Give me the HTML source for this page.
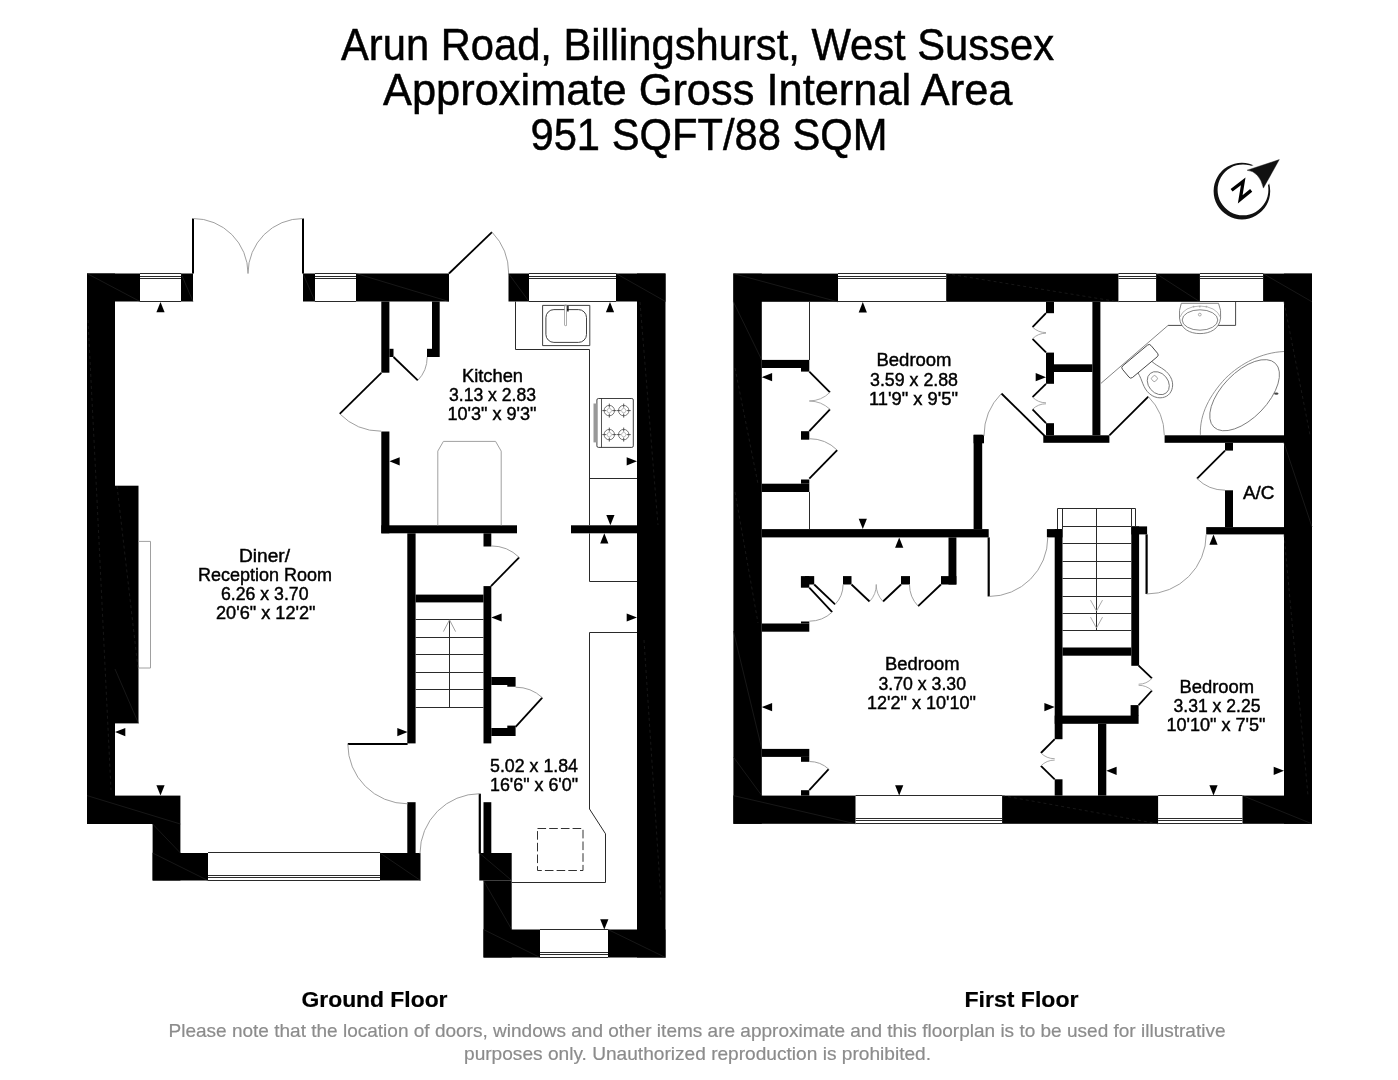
<!DOCTYPE html>
<html><head><meta charset="utf-8"><title>Floorplan</title>
<style>html,body{margin:0;padding:0;background:#fff}svg{display:block;will-change:transform}text{font-family:"Liberation Sans",sans-serif}</style>
</head><body>
<svg width="1398" height="1080" viewBox="0 0 1398 1080">
<rect width="1398" height="1080" fill="#fff"/>
<rect x="87.0" y="273.5" width="28.0" height="550.5" fill="#000"/>
<rect x="87.0" y="273.5" width="53.0" height="28.0" fill="#000"/>
<rect x="181.0" y="273.5" width="12.0" height="28.0" fill="#000"/>
<rect x="303.0" y="273.5" width="12.0" height="28.0" fill="#000"/>
<rect x="356.0" y="273.5" width="93.0" height="28.0" fill="#000"/>
<rect x="508.5" y="273.5" width="20.5" height="28.0" fill="#000"/>
<rect x="616.0" y="273.5" width="49.5" height="28.0" fill="#000"/>
<rect x="637.0" y="273.5" width="28.5" height="684.0" fill="#000"/>
<rect x="483.5" y="929.5" width="56.5" height="28.0" fill="#000"/>
<rect x="608.0" y="929.5" width="57.5" height="28.0" fill="#000"/>
<rect x="483.5" y="880.5" width="28.2" height="77.0" fill="#000"/>
<rect x="479.3" y="853.0" width="32.4" height="27.5" fill="#000"/>
<rect x="380.0" y="853.0" width="40.5" height="27.5" fill="#000"/>
<rect x="152.6" y="853.0" width="55.4" height="27.5" fill="#000"/>
<rect x="152.6" y="824.0" width="27.8" height="56.5" fill="#000"/>
<rect x="87.0" y="795.6" width="93.4" height="28.4" fill="#000"/>
<rect x="115.0" y="485.7" width="23.5" height="237.7" fill="#000"/>
<line x1="140.0" y1="273.5" x2="181.0" y2="273.5" stroke="#2a2a2a" stroke-width="1"/>
<line x1="140.0" y1="276.5" x2="181.0" y2="276.5" stroke="#2a2a2a" stroke-width="1"/>
<line x1="140.0" y1="278.5" x2="181.0" y2="278.5" stroke="#2a2a2a" stroke-width="1"/>
<line x1="140.0" y1="301.5" x2="181.0" y2="301.5" stroke="#2a2a2a" stroke-width="1"/>
<line x1="315.0" y1="273.5" x2="356.0" y2="273.5" stroke="#2a2a2a" stroke-width="1"/>
<line x1="315.0" y1="276.5" x2="356.0" y2="276.5" stroke="#2a2a2a" stroke-width="1"/>
<line x1="315.0" y1="278.5" x2="356.0" y2="278.5" stroke="#2a2a2a" stroke-width="1"/>
<line x1="315.0" y1="301.5" x2="356.0" y2="301.5" stroke="#2a2a2a" stroke-width="1"/>
<line x1="529.0" y1="273.5" x2="616.0" y2="273.5" stroke="#2a2a2a" stroke-width="1"/>
<line x1="529.0" y1="276.5" x2="616.0" y2="276.5" stroke="#2a2a2a" stroke-width="1"/>
<line x1="529.0" y1="278.5" x2="616.0" y2="278.5" stroke="#2a2a2a" stroke-width="1"/>
<line x1="529.0" y1="301.5" x2="616.0" y2="301.5" stroke="#2a2a2a" stroke-width="1"/>
<line x1="208.0" y1="880.5" x2="380.0" y2="880.5" stroke="#2a2a2a" stroke-width="1"/>
<line x1="208.0" y1="877.5" x2="380.0" y2="877.5" stroke="#2a2a2a" stroke-width="1"/>
<line x1="208.0" y1="875.5" x2="380.0" y2="875.5" stroke="#2a2a2a" stroke-width="1"/>
<line x1="208.0" y1="852.5" x2="380.0" y2="852.5" stroke="#2a2a2a" stroke-width="1"/>
<line x1="540.0" y1="957.5" x2="608.0" y2="957.5" stroke="#2a2a2a" stroke-width="1"/>
<line x1="540.0" y1="954.5" x2="608.0" y2="954.5" stroke="#2a2a2a" stroke-width="1"/>
<line x1="540.0" y1="952.5" x2="608.0" y2="952.5" stroke="#2a2a2a" stroke-width="1"/>
<line x1="540.0" y1="929.5" x2="608.0" y2="929.5" stroke="#2a2a2a" stroke-width="1"/>
<rect x="381.3" y="301.5" width="8.1" height="71.2" fill="#000"/>
<rect x="389.4" y="348.8" width="4.1" height="8.2" fill="#000"/>
<rect x="432.0" y="301.5" width="7.7" height="55.5" fill="#000"/>
<rect x="427.0" y="348.8" width="5.0" height="8.2" fill="#000"/>
<rect x="381.3" y="431.5" width="8.1" height="101.8" fill="#000"/>
<rect x="381.3" y="525.3" width="135.7" height="8.0" fill="#000"/>
<rect x="571.0" y="525.3" width="66.0" height="8.0" fill="#000"/>
<rect x="407.3" y="533.3" width="8.3" height="210.1" fill="#000"/>
<rect x="483.5" y="533.3" width="7.8" height="13.2" fill="#000"/>
<rect x="483.5" y="586.1" width="7.8" height="157.3" fill="#000"/>
<rect x="415.6" y="594.6" width="67.9" height="7.8" fill="#000"/>
<rect x="491.3" y="677.0" width="24.3" height="8.0" fill="#000"/>
<rect x="507.3" y="685.0" width="8.3" height="1.7" fill="#000"/>
<rect x="491.3" y="728.0" width="24.3" height="8.0" fill="#000"/>
<rect x="507.3" y="725.6" width="8.3" height="2.4" fill="#000"/>
<rect x="407.3" y="802.2" width="8.3" height="50.8" fill="#000"/>
<rect x="483.5" y="802.2" width="7.8" height="50.8" fill="#000"/>
<line x1="193.0" y1="273.5" x2="193.0" y2="218.5" stroke="#000" stroke-width="2"/>
<path d="M193.0,218.5 A55.0,55.0 0 0 1 248.0,273.5" stroke="#a0a0a0" stroke-width="1.0" fill="none" />
<line x1="303.0" y1="273.5" x2="303.0" y2="218.5" stroke="#000" stroke-width="2"/>
<path d="M303.0,218.5 A55.0,55.0 0 0 0 248.0,273.5" stroke="#a0a0a0" stroke-width="1.0" fill="none" />
<line x1="449.0" y1="273.5" x2="492.0" y2="232.1" stroke="#000" stroke-width="1.8"/>
<path d="M492.0,232.1 A59.7,59.7 0 0 1 508.7,273.5" stroke="#a0a0a0" stroke-width="1.0" fill="none" />
<line x1="393.5" y1="357.0" x2="417.8" y2="380.4" stroke="#000" stroke-width="1.8"/>
<path d="M417.8,380.4 A33.7,33.7 0 0 0 427.2,357.0" stroke="#a0a0a0" stroke-width="1.0" fill="none" />
<line x1="381.3" y1="372.8" x2="339.7" y2="413.8" stroke="#000" stroke-width="1.8"/>
<path d="M339.7,413.8 A58.4,58.4 0 0 0 381.3,431.2" stroke="#a0a0a0" stroke-width="1.0" fill="none" />
<line x1="491.0" y1="586.1" x2="519.2" y2="557.4" stroke="#000" stroke-width="1.8"/>
<path d="M519.2,557.4 A40.2,40.2 0 0 0 491.0,545.9" stroke="#a0a0a0" stroke-width="1.0" fill="none" />
<line x1="515.6" y1="726.8" x2="542.3" y2="697.6" stroke="#000" stroke-width="1.8"/>
<path d="M542.3,697.6 A39.6,39.6 0 0 0 515.6,687.2" stroke="#a0a0a0" stroke-width="1.0" fill="none" />
<line x1="407.6" y1="744.0" x2="347.8" y2="744.0" stroke="#000" stroke-width="2.2"/>
<path d="M347.8,744.0 A59.8,59.8 0 0 0 407.6,803.8" stroke="#a0a0a0" stroke-width="1.0" fill="none" />
<line x1="479.8" y1="853.5" x2="479.8" y2="793.7" stroke="#000" stroke-width="2.2"/>
<path d="M479.8,793.7 A59.8,59.8 0 0 0 420.0,853.5" stroke="#a0a0a0" stroke-width="1.0" fill="none" />
<path d="M138.5,541.4 H150.5 V668 H138.5" stroke="#a0a0a0" stroke-width="1" fill="none" />
<path d="M515.5,301.5 V349.5 H589.5 V525.3 M589.5,533.3 V581.5 H637 M589.5,478.5 H637" stroke="#2a2a2a" stroke-width="1" fill="none" />
<path d="M637,632.5 H589.5 V809 L605.5,833.8 V882.5 H511.7" stroke="#2a2a2a" stroke-width="1" fill="none" />
<path d="M542.6,305.4 H589.8 V345.6 H542.6 Z" stroke="#2a2a2a" stroke-width="0.9" fill="none" />
<rect x="545.9" y="309.6" width="40.6" height="32.8" rx="8" ry="8" fill="none" stroke="#2a2a2a" stroke-width="0.9"/>
<path d="M565.6,306 V324.8" stroke="#999" stroke-width="2.8" fill="none" stroke-linecap="round"/>
<path d="M565.6,306.6 V324.8" stroke="#fff" stroke-width="1.2" fill="none" stroke-linecap="round"/>
<rect x="567.2" y="306.0" width="1.4" height="5.5" fill="#000"/>
<rect x="596.9" y="398.5" width="36.4" height="48.9" rx="1.5" fill="none" stroke="#2a2a2a" stroke-width="0.9"/>
<rect x="593.5" y="403.5" width="3.4" height="38.9" fill="#999"/>
<line x1="601.5" y1="398.5" x2="601.5" y2="447.4" stroke="#2a2a2a" stroke-width="0.8"/>
<circle cx="609.3" cy="410.6" r="5.2" fill="none" stroke="#555" stroke-width="0.8"/>
<circle cx="609.3" cy="410.6" r="2.2" fill="none" stroke="#999" stroke-width="0.6"/>
<path d="M602.3,410.6 h4 M612.3,410.6 h4 M609.3,403.6 v4 M609.3,413.6 v4" stroke="#333" stroke-width="0.8" fill="none" />
<circle cx="609.3" cy="434.6" r="5.2" fill="none" stroke="#555" stroke-width="0.8"/>
<circle cx="609.3" cy="434.6" r="2.2" fill="none" stroke="#999" stroke-width="0.6"/>
<path d="M602.3,434.6 h4 M612.3,434.6 h4 M609.3,427.6 v4 M609.3,437.6 v4" stroke="#333" stroke-width="0.8" fill="none" />
<circle cx="623.7" cy="410.6" r="5.2" fill="none" stroke="#555" stroke-width="0.8"/>
<circle cx="623.7" cy="410.6" r="2.2" fill="none" stroke="#999" stroke-width="0.6"/>
<path d="M616.7,410.6 h4 M626.7,410.6 h4 M623.7,403.6 v4 M623.7,413.6 v4" stroke="#333" stroke-width="0.8" fill="none" />
<circle cx="623.7" cy="434.6" r="5.2" fill="none" stroke="#555" stroke-width="0.8"/>
<circle cx="623.7" cy="434.6" r="2.2" fill="none" stroke="#999" stroke-width="0.6"/>
<path d="M616.7,434.6 h4 M626.7,434.6 h4 M623.7,427.6 v4 M623.7,437.6 v4" stroke="#333" stroke-width="0.8" fill="none" />
<path d="M437.8,525.3 V451.1 L443.4,441.4 H495.6 L501.2,451.1 V525.3" stroke="#a0a0a0" stroke-width="1" fill="none" />
<line x1="415.6" y1="619.5" x2="483.5" y2="619.5" stroke="#2a2a2a" stroke-width="1"/>
<line x1="415.6" y1="637.5" x2="483.5" y2="637.5" stroke="#2a2a2a" stroke-width="1"/>
<line x1="415.6" y1="654.5" x2="483.5" y2="654.5" stroke="#2a2a2a" stroke-width="1"/>
<line x1="415.6" y1="672.5" x2="483.5" y2="672.5" stroke="#2a2a2a" stroke-width="1"/>
<line x1="415.6" y1="689.5" x2="483.5" y2="689.5" stroke="#2a2a2a" stroke-width="1"/>
<line x1="415.6" y1="707.5" x2="483.5" y2="707.5" stroke="#2a2a2a" stroke-width="1"/>
<line x1="449.5" y1="619.5" x2="449.5" y2="707.5" stroke="#2a2a2a" stroke-width="1"/>
<path d="M443.4,631.6 L449.5,619.9 L455.6,631.6" stroke="#a0a0a0" stroke-width="1" fill="none" />
<rect x="537.5" y="828.5" width="45.5" height="42" fill="none" stroke="#333" stroke-width="1" stroke-dasharray="8.6,3.1"/>
<polygon points="160.5,302.0 156.4,312.3 164.6,312.3" fill="#000"/>
<polygon points="610.0,302.0 605.9,312.3 614.1,312.3" fill="#000"/>
<polygon points="389.4,461.3 399.7,457.2 399.7,465.4" fill="#000"/>
<polygon points="637.0,461.3 626.7,457.2 626.7,465.4" fill="#000"/>
<polygon points="610.4,525.3 606.3,515.0 614.5,515.0" fill="#000"/>
<polygon points="604.3,533.3 600.2,543.6 608.4,543.6" fill="#000"/>
<polygon points="491.3,617.5 501.6,613.4 501.6,621.6" fill="#000"/>
<polygon points="637.0,617.5 626.7,613.4 626.7,621.6" fill="#000"/>
<polygon points="115.0,732.1 125.3,728.0 125.3,736.2" fill="#000"/>
<polygon points="407.6,732.1 397.3,728.0 397.3,736.2" fill="#000"/>
<polygon points="160.5,795.6 156.4,785.3 164.6,785.3" fill="#000"/>
<polygon points="604.3,929.5 600.2,919.2 608.4,919.2" fill="#000"/>
<rect x="733.4" y="273.6" width="28.4" height="550.2" fill="#000"/>
<rect x="1284.0" y="273.6" width="28.0" height="550.2" fill="#000"/>
<rect x="733.4" y="273.6" width="104.6" height="28.2" fill="#000"/>
<rect x="946.2" y="273.6" width="172.2" height="28.2" fill="#000"/>
<rect x="1156.1" y="273.6" width="43.8" height="28.2" fill="#000"/>
<rect x="1263.1" y="273.6" width="48.9" height="28.2" fill="#000"/>
<rect x="733.4" y="795.6" width="122.1" height="28.2" fill="#000"/>
<rect x="1002.1" y="795.6" width="156.0" height="28.2" fill="#000"/>
<rect x="1242.5" y="795.6" width="69.5" height="28.2" fill="#000"/>
<line x1="838.0" y1="273.5" x2="946.2" y2="273.5" stroke="#2a2a2a" stroke-width="1"/>
<line x1="838.0" y1="276.5" x2="946.2" y2="276.5" stroke="#2a2a2a" stroke-width="1"/>
<line x1="838.0" y1="278.5" x2="946.2" y2="278.5" stroke="#2a2a2a" stroke-width="1"/>
<line x1="838.0" y1="301.5" x2="946.2" y2="301.5" stroke="#2a2a2a" stroke-width="1"/>
<line x1="1118.4" y1="273.5" x2="1156.1" y2="273.5" stroke="#2a2a2a" stroke-width="1"/>
<line x1="1118.4" y1="276.5" x2="1156.1" y2="276.5" stroke="#2a2a2a" stroke-width="1"/>
<line x1="1118.4" y1="278.5" x2="1156.1" y2="278.5" stroke="#2a2a2a" stroke-width="1"/>
<line x1="1118.4" y1="301.5" x2="1156.1" y2="301.5" stroke="#2a2a2a" stroke-width="1"/>
<line x1="1199.9" y1="273.5" x2="1263.1" y2="273.5" stroke="#2a2a2a" stroke-width="1"/>
<line x1="1199.9" y1="276.5" x2="1263.1" y2="276.5" stroke="#2a2a2a" stroke-width="1"/>
<line x1="1199.9" y1="278.5" x2="1263.1" y2="278.5" stroke="#2a2a2a" stroke-width="1"/>
<line x1="1199.9" y1="301.5" x2="1263.1" y2="301.5" stroke="#2a2a2a" stroke-width="1"/>
<line x1="855.5" y1="823.5" x2="1002.1" y2="823.5" stroke="#2a2a2a" stroke-width="1"/>
<line x1="855.5" y1="820.5" x2="1002.1" y2="820.5" stroke="#2a2a2a" stroke-width="1"/>
<line x1="855.5" y1="818.5" x2="1002.1" y2="818.5" stroke="#2a2a2a" stroke-width="1"/>
<line x1="855.5" y1="795.5" x2="1002.1" y2="795.5" stroke="#2a2a2a" stroke-width="1"/>
<line x1="1158.1" y1="823.5" x2="1242.5" y2="823.5" stroke="#2a2a2a" stroke-width="1"/>
<line x1="1158.1" y1="820.5" x2="1242.5" y2="820.5" stroke="#2a2a2a" stroke-width="1"/>
<line x1="1158.1" y1="818.5" x2="1242.5" y2="818.5" stroke="#2a2a2a" stroke-width="1"/>
<line x1="1158.1" y1="795.5" x2="1242.5" y2="795.5" stroke="#2a2a2a" stroke-width="1"/>
<rect x="761.8" y="359.9" width="47.5" height="8.1" fill="#000"/>
<rect x="801.0" y="368.0" width="8.3" height="3.6" fill="#000"/>
<rect x="801.0" y="431.2" width="8.3" height="8.5" fill="#000"/>
<rect x="761.8" y="483.7" width="47.5" height="8.3" fill="#000"/>
<rect x="801.0" y="479.5" width="8.3" height="4.2" fill="#000"/>
<rect x="761.8" y="529.1" width="226.9" height="8.3" fill="#000"/>
<rect x="973.6" y="434.8" width="8.6" height="94.3" fill="#000"/>
<rect x="973.6" y="434.8" width="10.4" height="8.5" fill="#000"/>
<rect x="1046.0" y="301.8" width="8.0" height="11.4" fill="#000"/>
<rect x="1046.0" y="352.6" width="8.0" height="31.2" fill="#000"/>
<rect x="1046.0" y="423.2" width="8.0" height="12.1" fill="#000"/>
<rect x="1054.0" y="364.3" width="38.4" height="7.7" fill="#000"/>
<rect x="1092.4" y="301.8" width="8.0" height="133.5" fill="#000"/>
<rect x="1043.3" y="435.3" width="66.1" height="7.5" fill="#000"/>
<rect x="1164.6" y="435.3" width="119.4" height="7.5" fill="#000"/>
<rect x="1225.0" y="442.8" width="8.0" height="7.8" fill="#000"/>
<rect x="1225.0" y="490.3" width="8.0" height="36.8" fill="#000"/>
<rect x="1206.2" y="527.1" width="77.8" height="7.3" fill="#000"/>
<rect x="1054.7" y="529.1" width="7.8" height="210.1" fill="#000"/>
<rect x="1046.9" y="529.1" width="15.6" height="8.3" fill="#000"/>
<rect x="1131.3" y="526.4" width="7.8" height="139.4" fill="#000"/>
<rect x="1131.3" y="526.4" width="15.8" height="8.0" fill="#000"/>
<rect x="1062.5" y="647.5" width="68.8" height="8.2" fill="#000"/>
<rect x="1130.6" y="705.1" width="8.0" height="10.9" fill="#000"/>
<rect x="1054.7" y="715.6" width="83.9" height="8.2" fill="#000"/>
<rect x="1054.7" y="779.3" width="7.8" height="16.3" fill="#000"/>
<rect x="1098.0" y="723.8" width="8.3" height="71.8" fill="#000"/>
<rect x="948.5" y="537.4" width="7.9" height="47.1" fill="#000"/>
<rect x="941.0" y="576.1" width="15.4" height="8.4" fill="#000"/>
<rect x="800.9" y="576.1" width="8.4" height="11.6" fill="#000"/>
<rect x="805.0" y="576.1" width="9.2" height="8.4" fill="#000"/>
<rect x="843.0" y="576.1" width="8.5" height="8.4" fill="#000"/>
<rect x="901.0" y="576.1" width="9.0" height="8.4" fill="#000"/>
<rect x="761.8" y="623.5" width="47.5" height="8.2" fill="#000"/>
<rect x="801.0" y="621.5" width="8.3" height="2.0" fill="#000"/>
<rect x="761.8" y="748.9" width="47.5" height="8.0" fill="#000"/>
<rect x="801.0" y="756.9" width="8.3" height="4.9" fill="#000"/>
<rect x="801.0" y="790.2" width="8.3" height="5.4" fill="#000"/>
<line x1="809.5" y1="301.8" x2="809.5" y2="360.0" stroke="#2a2a2a" stroke-width="1"/>
<line x1="809.5" y1="492.0" x2="809.5" y2="529.1" stroke="#2a2a2a" stroke-width="1"/>
<line x1="809.3" y1="371.6" x2="830.0" y2="392.3" stroke="#000" stroke-width="1.8"/>
<path d="M830.0,392.3 A29.3,29.3 0 0 1 809.3,400.9" stroke="#a0a0a0" stroke-width="0.9" fill="none" />
<line x1="809.3" y1="431.2" x2="830.0" y2="409.3" stroke="#000" stroke-width="1.8"/>
<path d="M830.0,409.3 A30.1,30.1 0 0 0 809.3,401.1" stroke="#a0a0a0" stroke-width="0.9" fill="none" />
<line x1="809.3" y1="478.6" x2="837.2" y2="450.1" stroke="#000" stroke-width="1.8"/>
<path d="M837.2,450.1 A39.9,39.9 0 0 0 809.3,438.7" stroke="#a0a0a0" stroke-width="1.0" fill="none" />
<line x1="1044.7" y1="436.0" x2="1001.4" y2="393.5" stroke="#000" stroke-width="1.8"/>
<path d="M1001.4,393.5 A60.7,60.7 0 0 0 984.0,436.0" stroke="#a0a0a0" stroke-width="1.0" fill="none" />
<line x1="1046.0" y1="313.2" x2="1032.5" y2="327.1" stroke="#000" stroke-width="1.8"/>
<path d="M1032.5,327.1 A19.4,19.4 0 0 0 1046.0,332.6" stroke="#a0a0a0" stroke-width="0.9" fill="none" />
<line x1="1046.0" y1="352.3" x2="1032.5" y2="338.8" stroke="#000" stroke-width="1.8"/>
<path d="M1032.5,338.8 A19.1,19.1 0 0 1 1046.0,333.2" stroke="#a0a0a0" stroke-width="0.9" fill="none" />
<line x1="1046.0" y1="383.8" x2="1032.5" y2="397.1" stroke="#000" stroke-width="1.8"/>
<path d="M1032.5,397.1 A19.0,19.0 0 0 0 1046.0,402.8" stroke="#a0a0a0" stroke-width="0.9" fill="none" />
<line x1="1046.0" y1="423.2" x2="1032.5" y2="409.3" stroke="#000" stroke-width="1.8"/>
<path d="M1032.5,409.3 A19.4,19.4 0 0 1 1046.0,403.8" stroke="#a0a0a0" stroke-width="0.9" fill="none" />
<line x1="1109.4" y1="435.3" x2="1148.3" y2="396.6" stroke="#000" stroke-width="1.8"/>
<path d="M1148.3,396.6 A54.9,54.9 0 0 1 1164.3,435.3" stroke="#a0a0a0" stroke-width="1.0" fill="none" />
<line x1="1225.0" y1="450.6" x2="1197.0" y2="478.6" stroke="#000" stroke-width="1.8"/>
<path d="M1197.0,478.6 A39.6,39.6 0 0 0 1225.0,490.2" stroke="#a0a0a0" stroke-width="1.0" fill="none" />
<line x1="988.7" y1="537.4" x2="988.7" y2="596.5" stroke="#000" stroke-width="2.2"/>
<path d="M988.7,596.5 A59.1,59.1 0 0 0 1047.8,537.4" stroke="#a0a0a0" stroke-width="1.0" fill="none" />
<line x1="1146.6" y1="534.4" x2="1146.6" y2="594.0" stroke="#000" stroke-width="2.2"/>
<path d="M1146.6,594.0 A59.6,59.6 0 0 0 1206.2,534.4" stroke="#a0a0a0" stroke-width="1.0" fill="none" />
<line x1="814.2" y1="584.5" x2="835.1" y2="604.4" stroke="#000" stroke-width="1.8"/>
<path d="M835.1,604.4 A28.9,28.9 0 0 0 843.1,584.5" stroke="#a0a0a0" stroke-width="1.0" fill="none" />
<line x1="809.3" y1="587.7" x2="832.2" y2="612.1" stroke="#000" stroke-width="1.8"/>
<path d="M832.2,612.1 A33.5,33.5 0 0 1 809.3,621.2" stroke="#a0a0a0" stroke-width="1.0" fill="none" />
<line x1="851.5" y1="584.5" x2="869.6" y2="601.5" stroke="#000" stroke-width="1.8"/>
<path d="M869.6,601.5 A24.8,24.8 0 0 0 876.3,584.5" stroke="#a0a0a0" stroke-width="0.9" fill="none" />
<line x1="901.0" y1="584.5" x2="883.0" y2="601.5" stroke="#000" stroke-width="1.8"/>
<path d="M883.0,601.5 A24.8,24.8 0 0 1 876.2,584.5" stroke="#a0a0a0" stroke-width="0.9" fill="none" />
<line x1="940.9" y1="584.5" x2="918.1" y2="606.1" stroke="#000" stroke-width="1.8"/>
<path d="M918.1,606.1 A31.4,31.4 0 0 1 909.5,584.5" stroke="#a0a0a0" stroke-width="1.0" fill="none" />
<line x1="809.3" y1="790.2" x2="828.7" y2="769.1" stroke="#000" stroke-width="1.8"/>
<path d="M828.7,769.1 A28.7,28.7 0 0 0 809.3,761.5" stroke="#a0a0a0" stroke-width="1.0" fill="none" />
<line x1="1138.6" y1="665.7" x2="1152.0" y2="678.4" stroke="#000" stroke-width="1.8"/>
<path d="M1152.0,678.4 A18.5,18.5 0 0 1 1138.6,684.2" stroke="#a0a0a0" stroke-width="0.9" fill="none" />
<line x1="1138.6" y1="705.1" x2="1152.0" y2="690.5" stroke="#000" stroke-width="1.8"/>
<path d="M1152.0,690.5 A19.8,19.8 0 0 0 1138.6,685.3" stroke="#a0a0a0" stroke-width="0.9" fill="none" />
<line x1="1054.7" y1="739.2" x2="1040.9" y2="753.0" stroke="#000" stroke-width="1.8"/>
<path d="M1040.9,753.0 A19.5,19.5 0 0 0 1054.7,758.7" stroke="#a0a0a0" stroke-width="0.9" fill="none" />
<line x1="1054.7" y1="779.3" x2="1040.9" y2="765.9" stroke="#000" stroke-width="1.8"/>
<path d="M1040.9,765.9 A19.2,19.2 0 0 1 1054.7,760.1" stroke="#a0a0a0" stroke-width="0.9" fill="none" />
<path d="M1057.5,529.1 V508.5 H1135.5 V526.4 M1062.5,508.5 V529.1 M1131.5,508.5 V526.4" stroke="#2a2a2a" stroke-width="1" fill="none" />
<line x1="1062.5" y1="526.5" x2="1131.3" y2="526.5" stroke="#2a2a2a" stroke-width="1"/>
<line x1="1062.5" y1="543.5" x2="1131.3" y2="543.5" stroke="#2a2a2a" stroke-width="1"/>
<line x1="1062.5" y1="561.5" x2="1131.3" y2="561.5" stroke="#2a2a2a" stroke-width="1"/>
<line x1="1062.5" y1="578.5" x2="1131.3" y2="578.5" stroke="#2a2a2a" stroke-width="1"/>
<line x1="1062.5" y1="596.5" x2="1131.3" y2="596.5" stroke="#2a2a2a" stroke-width="1"/>
<line x1="1062.5" y1="613.5" x2="1131.3" y2="613.5" stroke="#2a2a2a" stroke-width="1"/>
<line x1="1062.5" y1="630.5" x2="1131.3" y2="630.5" stroke="#2a2a2a" stroke-width="1"/>
<line x1="1096.5" y1="508.5" x2="1096.5" y2="630.5" stroke="#2a2a2a" stroke-width="1"/>
<path d="M1090.5,600.1 L1096.5,611 L1102.5,600.1 M1090.5,617.1 L1096.5,628 L1102.5,617.1" stroke="#a0a0a0" stroke-width="0.9" fill="none" />
<path d="M1235.6,301.8 V325.4 H1168.1" stroke="#333" stroke-width="0.9" fill="none" />
<path d="M1168.1,325.4 L1100.9,383.4" stroke="#777" stroke-width="0.9" fill="none" />
<path d="M1181.3,303.3 H1218.5 Q1221.5,310 1220.6,318 C1219.5,329 1210,333.6 1200,333.6 C1190,333.6 1180.5,329 1179.5,318 Q1178.7,310 1181.3,303.3 Z" stroke="#777" stroke-width="0.9" fill="#fff" />
<ellipse cx="1200" cy="320" rx="17.8" ry="10.2" fill="none" stroke="#777" stroke-width="0.9"/>
<path d="M1180,317 Q1184,306.5 1200,306 Q1216,306.5 1220.3,317" stroke="#999" stroke-width="0.7" fill="none" />
<circle cx="1199.8" cy="314.6" r="1.4" fill="none" stroke="#888" stroke-width="0.7"/>
<circle cx="1193.6" cy="306.6" r="0.9" fill="#aaa"/>
<circle cx="1199.8" cy="306.6" r="0.9" fill="#aaa"/>
<circle cx="1206.4" cy="306.6" r="0.9" fill="#aaa"/>
<g transform="translate(1140,361.3) rotate(-39.9)">
<path d="M-9,7.6 C-10,16 -15,22 -13.5,31 C-12,40 -5,44 0,44 C5,44 12,40 13.5,31 C15,22 10,16 9,7.6" fill="#fff" stroke="#777" stroke-width="0.9"/>
<ellipse cx="0" cy="28.5" rx="9.8" ry="12.6" fill="none" stroke="#777" stroke-width="0.9"/>
<rect x="-2.6" y="20" width="5.2" height="5" rx="1.3" fill="none" stroke="#888" stroke-width="0.7"/>
<rect x="-18.6" y="-7.6" width="37.2" height="15.2" rx="2.5" fill="#fff" stroke="#444" stroke-width="0.9"/>
</g>
<path d="M1200.4,434.8 C1199.5,414 1210,395 1225.2,378.6 C1241,363 1262,352.5 1284,351.5" stroke="#888" stroke-width="0.9" fill="none" />
<ellipse cx="0" cy="0" rx="44.3" ry="22.8" fill="none" stroke="#777" stroke-width="0.9" transform="translate(1244.6,395.2) rotate(-46)"/>
<ellipse cx="1276.3" cy="393.6" rx="2.2" ry="1.2" fill="#444"/>
<polygon points="862.8,302.1 858.7,312.4 866.9,312.4" fill="#000"/>
<polygon points="761.8,377.2 772.1,373.1 772.1,381.3" fill="#000"/>
<polygon points="1046.0,377.2 1035.7,373.1 1035.7,381.3" fill="#000"/>
<polygon points="862.8,529.1 858.7,518.8 866.9,518.8" fill="#000"/>
<polygon points="899.2,537.4 895.1,547.7 903.3,547.7" fill="#000"/>
<polygon points="761.8,707.1 772.1,703.0 772.1,711.2" fill="#000"/>
<polygon points="1054.7,707.1 1044.4,703.0 1044.4,711.2" fill="#000"/>
<polygon points="899.2,795.6 895.1,785.3 903.3,785.3" fill="#000"/>
<polygon points="1213.5,534.4 1209.4,544.7 1217.6,544.7" fill="#000"/>
<polygon points="1106.3,770.8 1116.6,766.7 1116.6,774.9" fill="#000"/>
<polygon points="1284.0,770.8 1273.7,766.7 1273.7,774.9" fill="#000"/>
<polygon points="1213.5,795.6 1209.4,785.3 1217.6,785.3" fill="#000"/>
<line x1="87" y1="273.5" x2="140" y2="301.5" stroke="#272727" stroke-width="0.6"/>
<line x1="181" y1="273.5" x2="193" y2="301.5" stroke="#272727" stroke-width="0.6"/>
<line x1="303" y1="273.5" x2="315" y2="301.5" stroke="#272727" stroke-width="0.6"/>
<line x1="356" y1="273.5" x2="449" y2="301.5" stroke="#272727" stroke-width="0.6"/>
<line x1="508.5" y1="273.5" x2="529" y2="301.5" stroke="#272727" stroke-width="0.6"/>
<line x1="616" y1="273.5" x2="665.5" y2="301.5" stroke="#272727" stroke-width="0.6"/>
<line x1="87" y1="795.6" x2="180.4" y2="824" stroke="#272727" stroke-width="0.6"/>
<line x1="152.6" y1="824" x2="180.4" y2="853" stroke="#272727" stroke-width="0.6"/>
<line x1="152.6" y1="853" x2="208" y2="880.5" stroke="#272727" stroke-width="0.6"/>
<line x1="380" y1="853" x2="420.5" y2="880.5" stroke="#272727" stroke-width="0.6"/>
<line x1="479.3" y1="853" x2="511.7" y2="880.5" stroke="#272727" stroke-width="0.6"/>
<line x1="483.5" y1="880.5" x2="511.7" y2="929.5" stroke="#272727" stroke-width="0.6"/>
<line x1="483.5" y1="929.5" x2="540" y2="957.5" stroke="#272727" stroke-width="0.6"/>
<line x1="608" y1="929.5" x2="665.5" y2="957.5" stroke="#272727" stroke-width="0.6"/>
<line x1="115" y1="669" x2="138.5" y2="723.4" stroke="#272727" stroke-width="0.6"/>
<line x1="733.4" y1="273.6" x2="838" y2="301.8" stroke="#272727" stroke-width="0.6"/>
<line x1="1156.1" y1="273.6" x2="1199.9" y2="301.8" stroke="#272727" stroke-width="0.6"/>
<line x1="1263.1" y1="273.6" x2="1312" y2="301.8" stroke="#272727" stroke-width="0.6"/>
<line x1="733.4" y1="795.6" x2="855.5" y2="823.8" stroke="#272727" stroke-width="0.6"/>
<line x1="1242.5" y1="795.6" x2="1312" y2="823.8" stroke="#272727" stroke-width="0.6"/>
<line x1="733.4" y1="301.8" x2="761.8" y2="360" stroke="#272727" stroke-width="0.6"/>
<line x1="733.4" y1="631" x2="761.8" y2="749" stroke="#272727" stroke-width="0.6"/>
<line x1="733.4" y1="757" x2="761.8" y2="795.6" stroke="#272727" stroke-width="0.6"/>
<line x1="1284" y1="443" x2="1312" y2="527" stroke="#272727" stroke-width="0.6"/>
<line x1="946.2" y1="273.6" x2="1118.4" y2="301.8" stroke="#272727" stroke-width="0.6" stroke-dasharray="3,3"/>
<line x1="1002.1" y1="795.6" x2="1158.1" y2="823.8" stroke="#272727" stroke-width="0.6" stroke-dasharray="3,3"/>
<line x1="88" y1="320" x2="97" y2="500" stroke="#272727" stroke-width="0.6" stroke-dasharray="3,3"/>
<line x1="97" y1="500" x2="111" y2="790" stroke="#272727" stroke-width="0.6" stroke-dasharray="3,3"/>
<line x1="117" y1="486" x2="138" y2="668" stroke="#272727" stroke-width="0.6" stroke-dasharray="3,3"/>
<line x1="640" y1="302" x2="658" y2="525" stroke="#272727" stroke-width="0.6" stroke-dasharray="3,3"/>
<line x1="644" y1="640" x2="661" y2="900" stroke="#272727" stroke-width="0.6" stroke-dasharray="3,3"/>
<line x1="1284" y1="301.8" x2="1310" y2="435" stroke="#272727" stroke-width="0.6" stroke-dasharray="3,3"/>
<line x1="1284" y1="534.4" x2="1308" y2="795.6" stroke="#272727" stroke-width="0.6" stroke-dasharray="3,3"/>
<line x1="735" y1="368" x2="758" y2="484" stroke="#272727" stroke-width="0.6" stroke-dasharray="3,3"/>
<line x1="735" y1="492" x2="758" y2="623" stroke="#272727" stroke-width="0.6" stroke-dasharray="3,3"/>
<path d="M1241.9,162.8 a28.3,28.3 0 1 0 0.01,0 Z M1243,164.5 a25.4,25.4 0 1 1 -0.01,0 Z" fill="#111" fill-rule="evenodd"/>
<path d="M1279.3,159.6 L1247.1,170.2 Q1259.5,171.5 1263.4,188.1 Z" stroke="#fff" stroke-width="5.5" fill="#fff" stroke-linejoin="miter" stroke-miterlimit="2"/>
<path d="M1279.3,159.6 L1247.1,170.2 Q1259.5,171.5 1263.4,188.1 Z" stroke="#111" stroke-width="0.4" fill="#111" />
<path d="M1231.6,190.2 L1243.2,181.4 L1240.2,199.4 L1251.2,190.4" stroke="#000" stroke-width="3.3" fill="none" stroke-linejoin="miter"/>
<text x="341.00" y="60.3" font-size="45" font-weight="normal" fill="#000" stroke="#000" stroke-width="0.5" textLength="713.00" lengthAdjust="spacingAndGlyphs">Arun Road, Billingshurst, West Sussex</text>
<text x="383.00" y="105.3" font-size="45" font-weight="normal" fill="#000" stroke="#000" stroke-width="0.5" textLength="629.50" lengthAdjust="spacingAndGlyphs">Approximate Gross Internal Area</text>
<text x="530.48" y="149.6" font-size="45" font-weight="normal" fill="#000" stroke="#000" stroke-width="0.5" textLength="357.05" lengthAdjust="spacingAndGlyphs">951 SQFT/88 SQM</text>
<text x="461.95" y="382.3" font-size="18.8" font-weight="normal" fill="#000" stroke="#000" stroke-width="0.45" textLength="61.10" lengthAdjust="spacingAndGlyphs">Kitchen</text>
<text x="449.00" y="401.1" font-size="18.8" font-weight="normal" fill="#000" stroke="#000" stroke-width="0.45" textLength="87.02" lengthAdjust="spacingAndGlyphs">3.13 x 2.83</text>
<text x="447.48" y="419.8" font-size="18.8" font-weight="normal" fill="#000" stroke="#000" stroke-width="0.45" textLength="89.03" lengthAdjust="spacingAndGlyphs">10'3&quot; x 9'3&quot;</text>
<text x="238.96" y="561.9" font-size="18.8" font-weight="normal" fill="#000" stroke="#000" stroke-width="0.45" textLength="51.06" lengthAdjust="spacingAndGlyphs">Diner/</text>
<text x="197.99" y="580.9" font-size="18.8" font-weight="normal" fill="#000" stroke="#000" stroke-width="0.45" textLength="134.03" lengthAdjust="spacingAndGlyphs">Reception Room</text>
<text x="220.99" y="599.6" font-size="18.8" font-weight="normal" fill="#000" stroke="#000" stroke-width="0.45" textLength="87.52" lengthAdjust="spacingAndGlyphs">6.26 x 3.70</text>
<text x="215.99" y="619.4" font-size="18.8" font-weight="normal" fill="#000" stroke="#000" stroke-width="0.45" textLength="99.51" lengthAdjust="spacingAndGlyphs">20'6&quot; x 12'2&quot;</text>
<text x="489.99" y="772.4" font-size="18.8" font-weight="normal" fill="#000" stroke="#000" stroke-width="0.45" textLength="88.02" lengthAdjust="spacingAndGlyphs">5.02 x 1.84</text>
<text x="489.98" y="791.1" font-size="18.8" font-weight="normal" fill="#000" stroke="#000" stroke-width="0.45" textLength="88.03" lengthAdjust="spacingAndGlyphs">16'6&quot; x 6'0&quot;</text>
<text x="876.46" y="366.3" font-size="18.8" font-weight="normal" fill="#000" stroke="#000" stroke-width="0.45" textLength="75.09" lengthAdjust="spacingAndGlyphs">Bedroom</text>
<text x="870.00" y="385.5" font-size="18.8" font-weight="normal" fill="#000" stroke="#000" stroke-width="0.45" textLength="88.01" lengthAdjust="spacingAndGlyphs">3.59 x 2.88</text>
<text x="868.97" y="404.5" font-size="18.8" font-weight="normal" fill="#000" stroke="#000" stroke-width="0.45" textLength="89.05" lengthAdjust="spacingAndGlyphs">11'9&quot; x 9'5&quot;</text>
<text x="884.97" y="670.4" font-size="18.8" font-weight="normal" fill="#000" stroke="#000" stroke-width="0.45" textLength="74.58" lengthAdjust="spacingAndGlyphs">Bedroom</text>
<text x="878.48" y="689.6" font-size="18.8" font-weight="normal" fill="#000" stroke="#000" stroke-width="0.45" textLength="87.52" lengthAdjust="spacingAndGlyphs">3.70 x 3.30</text>
<text x="866.97" y="708.8" font-size="18.8" font-weight="normal" fill="#000" stroke="#000" stroke-width="0.45" textLength="109.03" lengthAdjust="spacingAndGlyphs">12'2&quot; x 10'10&quot;</text>
<text x="1179.45" y="692.6" font-size="18.8" font-weight="normal" fill="#000" stroke="#000" stroke-width="0.45" textLength="74.58" lengthAdjust="spacingAndGlyphs">Bedroom</text>
<text x="1173.49" y="711.8" font-size="18.8" font-weight="normal" fill="#000" stroke="#000" stroke-width="0.45" textLength="87.03" lengthAdjust="spacingAndGlyphs">3.31 x 2.25</text>
<text x="1166.48" y="731.1" font-size="18.8" font-weight="normal" fill="#000" stroke="#000" stroke-width="0.45" textLength="99.03" lengthAdjust="spacingAndGlyphs">10'10&quot; x 7'5&quot;</text>
<text x="1243.00" y="498.9" font-size="18.8" font-weight="normal" fill="#000" stroke="#000" stroke-width="0.45" textLength="31.52" lengthAdjust="spacingAndGlyphs">A/C</text>
<text x="301.50" y="1006.8" font-size="22" font-weight="bold" fill="#000" stroke="#000" stroke-width="0.2" textLength="146.00" lengthAdjust="spacingAndGlyphs">Ground Floor</text>
<text x="964.49" y="1006.8" font-size="22" font-weight="bold" fill="#000" stroke="#000" stroke-width="0.2" textLength="114.01" lengthAdjust="spacingAndGlyphs">First Floor</text>
<text x="168.50" y="1036.8" font-size="19" font-weight="normal" fill="#8c8c8c" stroke="#8c8c8c" stroke-width="0.2" textLength="1057.00" lengthAdjust="spacingAndGlyphs">Please note that the location of doors, windows and other items are approximate and this floorplan is to be used for illustrative</text>
<text x="464.00" y="1060.2" font-size="19" font-weight="normal" fill="#8c8c8c" stroke="#8c8c8c" stroke-width="0.2" textLength="467.01" lengthAdjust="spacingAndGlyphs">purposes only. Unauthorized reproduction is prohibited.</text>
</svg>
</body></html>
